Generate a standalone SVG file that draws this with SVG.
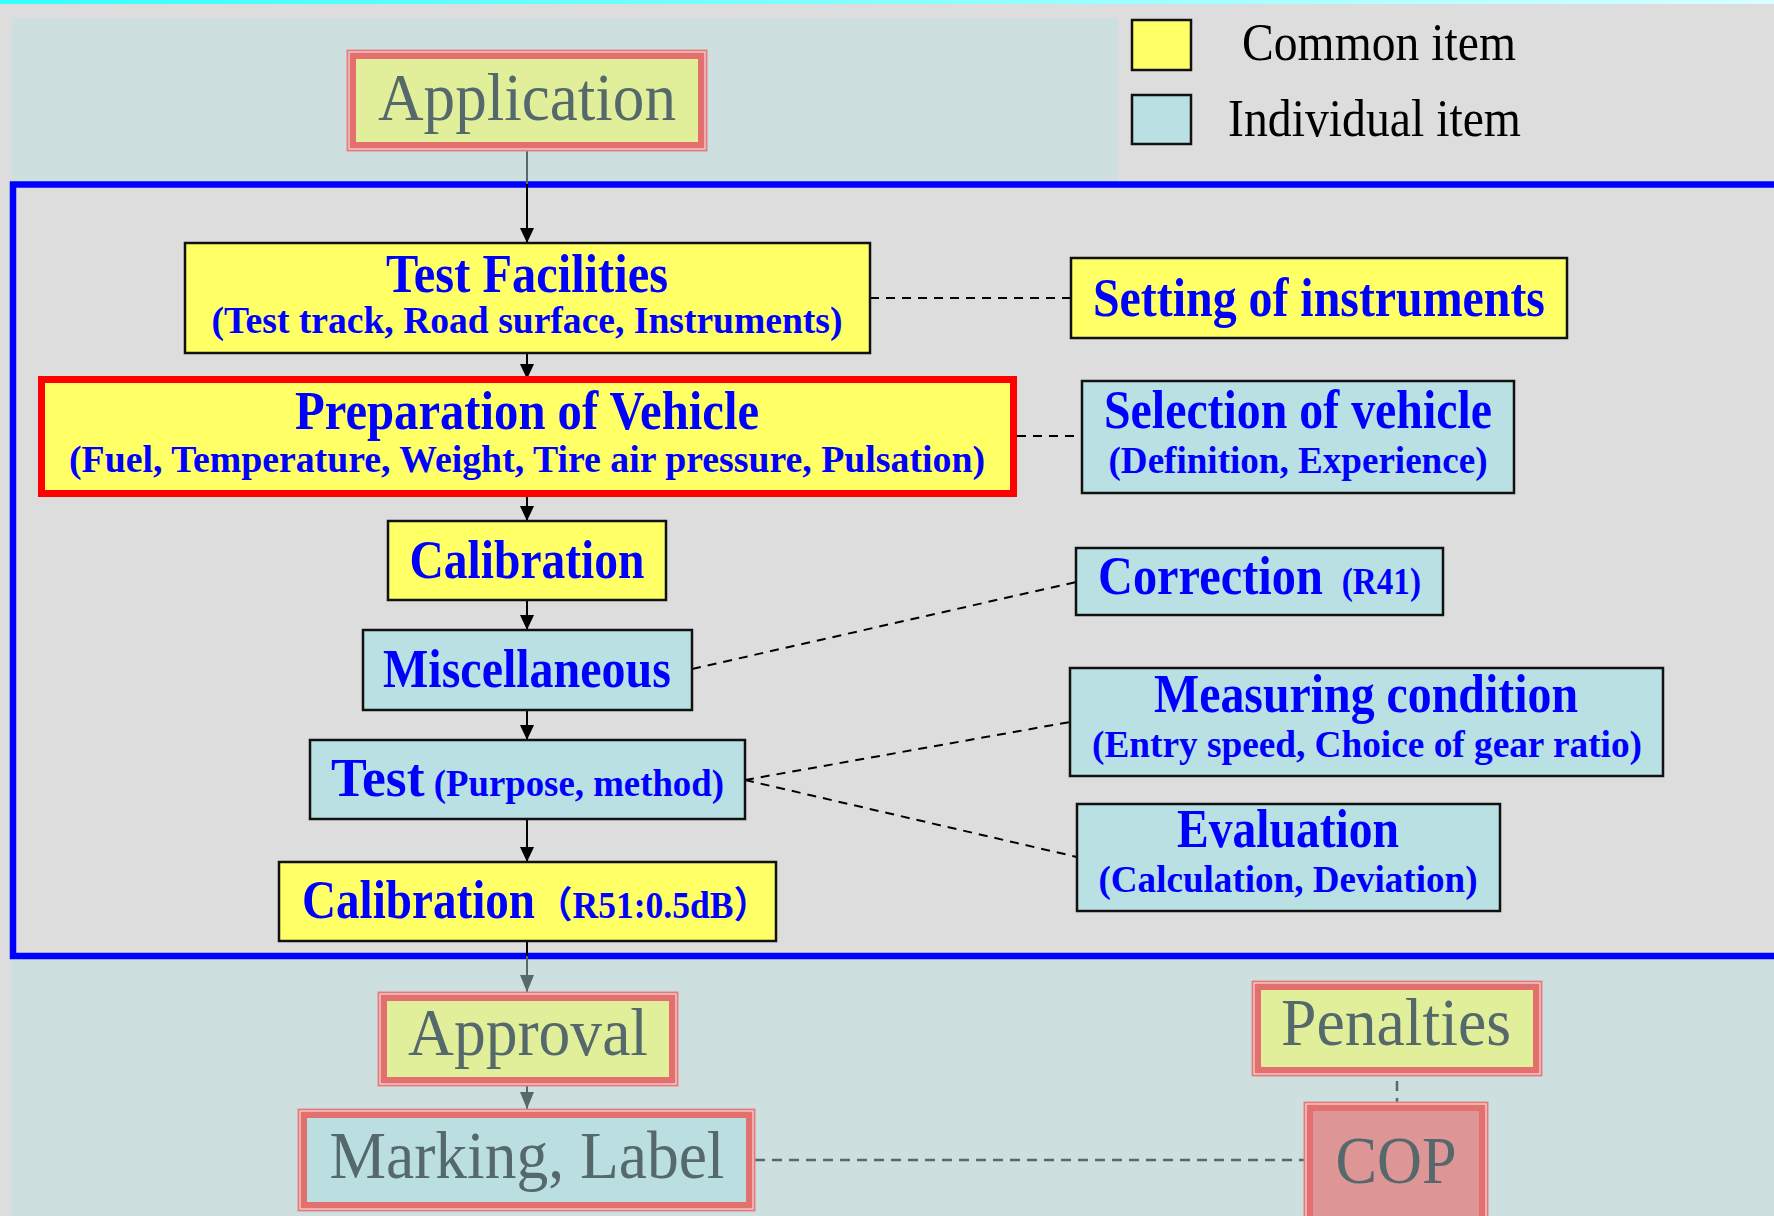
<svg xmlns="http://www.w3.org/2000/svg" width="1774" height="1216" viewBox="0 0 1774 1216">
<defs>
<linearGradient id="topbar" x1="0" y1="0" x2="1" y2="0">
<stop offset="0" stop-color="#33ffff"/>
<stop offset="1" stop-color="#d8ffff"/>
</linearGradient>
<marker id="arr" markerUnits="userSpaceOnUse" markerWidth="16" markerHeight="16" viewBox="0 0 16 16" refX="15" refY="8" orient="auto">
<path d="M0,1 L15,8 L0,15 Z" fill="#000"/>
</marker>
<marker id="arrg" markerUnits="userSpaceOnUse" markerWidth="18" markerHeight="16" viewBox="0 0 18 16" refX="17" refY="8" orient="auto">
<path d="M0,1 L17,8 L0,15 Z" fill="#56696c"/>
</marker>
<style>
.t{font-family:"Liberation Serif","Times New Roman",serif;font-weight:bold;font-size:54px;fill:#0000ff}
.s{font-family:"Liberation Serif","Times New Roman",serif;font-weight:bold;font-size:37px;fill:#0000ff}
.ss{font-size:37px}
.sj{font-family:"Liberation Serif","Noto Sans CJK JP",serif;font-weight:bold;font-size:37px;fill:#0000ff}
.g{font-family:"Liberation Serif","Times New Roman",serif;font-size:67px;fill:#55696c}
.l{font-family:"Liberation Serif","Times New Roman",serif;font-size:52px;fill:#000}
.y{fill:#ffff66;stroke:#111;stroke-width:2.5}
.c{fill:#b9e0e2;stroke:#111;stroke-width:2.5}
.band{fill:#e36f6f;stroke:#e88585;stroke-width:1}
.gap{fill:none;stroke:#f2d6d6;stroke-width:1.3}
.fy{fill:#e1ef9b}
.fc{fill:#bbdfe0}
.fp{fill:#de9595}
.dash{stroke:#000;stroke-width:2;stroke-dasharray:9 7;fill:none}
.dashg{stroke:#56696c;stroke-width:2.5;stroke-dasharray:10 7;fill:none}
.line{stroke:#000;stroke-width:2;fill:none}
.lineg{stroke:#56696c;stroke-width:2;fill:none}
</style>
</defs>

<rect x="0" y="0" width="1774" height="1216" fill="#dddddd"/>
<rect x="0" y="0" width="1774" height="4" fill="url(#topbar)"/>
<rect x="12" y="18" width="1106" height="166" fill="#cddfdf"/>
<rect x="12" y="956" width="1762" height="260" fill="#cddfdf"/>
<rect x="13" y="184.5" width="1780" height="771.5" fill="none" stroke="#0000ff" stroke-width="6.5"/>

<g id="legend">
<rect x="1132" y="20" width="59" height="50" fill="#ffff66" stroke="#111" stroke-width="2.5"/>
<rect x="1132" y="95" width="59" height="49" fill="#b9e0e2" stroke="#111" stroke-width="2.5"/>
<text class="l" x="1242" y="60" textLength="274" lengthAdjust="spacingAndGlyphs">Common item</text>
<text class="l" x="1228" y="136" textLength="293" lengthAdjust="spacingAndGlyphs">Individual item</text>
</g>

<g id="connectors">
<line class="lineg" x1="527" y1="151" x2="527" y2="184"/>
<line class="line" x1="527" y1="184" x2="527" y2="243" marker-end="url(#arr)"/>
<line class="line" x1="527" y1="353" x2="527" y2="379" marker-end="url(#arr)"/>
<line class="line" x1="527" y1="497" x2="527" y2="521" marker-end="url(#arr)"/>
<line class="line" x1="527" y1="600" x2="527" y2="630" marker-end="url(#arr)"/>
<line class="line" x1="527" y1="710" x2="527" y2="740" marker-end="url(#arr)"/>
<line class="line" x1="527" y1="819" x2="527" y2="862" marker-end="url(#arr)"/>
<line class="line" x1="527" y1="941" x2="527" y2="956"/>
<line class="lineg" x1="527" y1="956" x2="527" y2="992" marker-end="url(#arrg)"/>
<line class="lineg" x1="527" y1="1086" x2="527" y2="1109" marker-end="url(#arrg)"/>
<line class="dash" x1="870" y1="298" x2="1071" y2="298"/>
<line class="dash" x1="1017" y1="436" x2="1082" y2="436"/>
<line class="dash" x1="692" y1="669" x2="1076" y2="582"/>
<line class="dash" x1="745" y1="780" x2="1070" y2="722"/>
<line class="dash" x1="745" y1="780" x2="1077" y2="857"/>
<line class="dashg" x1="755" y1="1160" x2="1304" y2="1160"/>
<line class="dashg" x1="1397" y1="1081" x2="1397" y2="1102"/>
</g>

<g id="application">
<rect class="band" x="347" y="50" width="360" height="101"/>
<rect class="gap" x="349" y="52" width="356" height="97"/>
<rect class="fy" x="356" y="59" width="342" height="83"/>
<text class="g" x="527" y="120" text-anchor="middle" textLength="298" lengthAdjust="spacingAndGlyphs">Application</text>
</g>

<g id="test-facilities">
<rect class="y" x="185" y="243" width="685" height="110"/>
<text class="t" x="527" y="292" text-anchor="middle" textLength="282" lengthAdjust="spacingAndGlyphs">Test Facilities</text>
<text class="s" x="527" y="333" text-anchor="middle" textLength="631" lengthAdjust="spacingAndGlyphs">(Test track, Road surface, Instruments)</text>
</g>

<g id="preparation">
<rect x="41.5" y="379.5" width="972" height="114" fill="#ffff66" stroke="#ff0000" stroke-width="7"/>
<text class="t" x="527" y="429" text-anchor="middle" textLength="464" lengthAdjust="spacingAndGlyphs">Preparation of Vehicle</text>
<text class="s" x="527" y="472" text-anchor="middle" textLength="916" lengthAdjust="spacingAndGlyphs">(Fuel, Temperature, Weight, Tire air pressure, Pulsation)</text>
</g>

<g id="calibration">
<rect class="y" x="388" y="521" width="278" height="79"/>
<text class="t" x="527" y="578" text-anchor="middle" textLength="235" lengthAdjust="spacingAndGlyphs">Calibration</text>
</g>

<g id="miscellaneous">
<rect class="c" x="363" y="630" width="329" height="80"/>
<text class="t" x="527" y="687" text-anchor="middle" textLength="288" lengthAdjust="spacingAndGlyphs">Miscellaneous</text>
</g>

<g id="test">
<rect class="c" x="310" y="740" width="435" height="79"/>
<text class="t" x="331" y="796" textLength="393" lengthAdjust="spacingAndGlyphs">Test<tspan class="ss"> (Purpose, method)</tspan></text>
</g>

<g id="calibration-r51">
<rect class="y" x="279" y="862" width="497" height="79"/>
<text class="t" x="302" y="918" textLength="233" lengthAdjust="spacingAndGlyphs">Calibration</text>
<text class="sj" x="537" y="918" textLength="232" lengthAdjust="spacingAndGlyphs">（R51:0.5dB）</text>
</g>

<g id="setting">
<rect class="y" x="1071" y="258" width="496" height="80"/>
<text class="t" x="1093" y="316" textLength="452" lengthAdjust="spacingAndGlyphs">Setting of instruments</text>
</g>

<g id="selection">
<rect class="c" x="1082" y="381" width="432" height="112"/>
<text class="t" x="1298" y="428" text-anchor="middle" textLength="388" lengthAdjust="spacingAndGlyphs">Selection of vehicle</text>
<text class="s" x="1298" y="473" text-anchor="middle" textLength="379" lengthAdjust="spacingAndGlyphs">(Definition, Experience)</text>
</g>

<g id="correction">
<rect class="c" x="1076" y="548" width="367" height="67"/>
<text class="t" x="1098" y="594" font-size="52" textLength="323" lengthAdjust="spacingAndGlyphs">Correction<tspan class="ss" dx="12"> (R41)</tspan></text>
</g>

<g id="measuring">
<rect class="c" x="1070" y="668" width="593" height="108"/>
<text class="t" x="1366" y="712" text-anchor="middle" textLength="424" lengthAdjust="spacingAndGlyphs">Measuring condition</text>
<text class="s" x="1367" y="757" text-anchor="middle" textLength="550" lengthAdjust="spacingAndGlyphs">(Entry speed, Choice of gear ratio)</text>
</g>

<g id="evaluation">
<rect class="c" x="1077" y="804" width="423" height="107"/>
<text class="t" x="1288" y="847" text-anchor="middle" textLength="222" lengthAdjust="spacingAndGlyphs">Evaluation</text>
<text class="s" x="1288" y="892" text-anchor="middle" textLength="379" lengthAdjust="spacingAndGlyphs">(Calculation, Deviation)</text>
</g>

<g id="approval">
<rect class="band" x="378" y="992" width="300" height="94"/>
<rect class="gap" x="380" y="994" width="296" height="90"/>
<rect class="fy" x="387" y="1001" width="282" height="76"/>
<text class="g" x="528" y="1055" text-anchor="middle" textLength="240" lengthAdjust="spacingAndGlyphs">Approval</text>
</g>

<g id="marking">
<rect class="band" x="298" y="1109" width="457" height="102"/>
<rect class="gap" x="300" y="1111" width="453" height="98"/>
<rect class="fc" x="307" y="1118" width="439" height="84"/>
<text class="g" x="527" y="1178" text-anchor="middle" textLength="395" lengthAdjust="spacingAndGlyphs">Marking, Label</text>
</g>

<g id="penalties">
<rect class="band" x="1252" y="981" width="290" height="95"/>
<rect class="gap" x="1254" y="983" width="286" height="91"/>
<rect class="fy" x="1261" y="990" width="272" height="77"/>
<text class="g" x="1396" y="1045" text-anchor="middle" textLength="230" lengthAdjust="spacingAndGlyphs">Penalties</text>
</g>

<g id="cop">
<rect class="band" x="1304" y="1102" width="184" height="130"/>
<rect class="gap" x="1306" y="1104" width="180" height="126"/>
<rect class="fp" x="1313" y="1111" width="166" height="112"/>
<text class="g" x="1396" y="1183" text-anchor="middle" textLength="121" lengthAdjust="spacingAndGlyphs">COP</text>
</g>
</svg>
